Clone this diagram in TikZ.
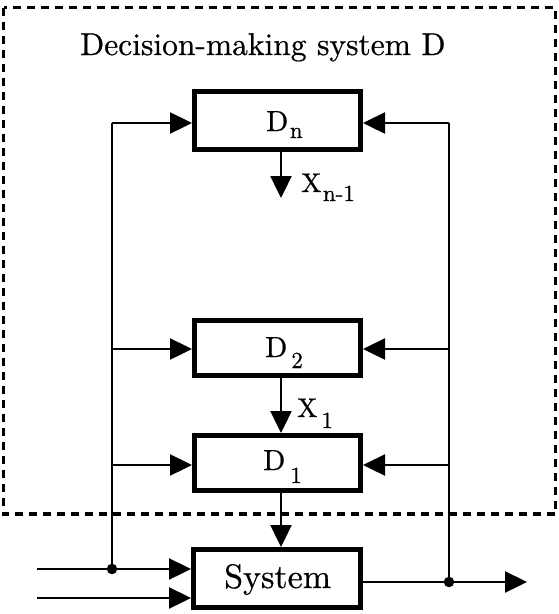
\documentclass[tikz,border=0pt]{standalone}
\usepackage{fontspec}
\setmainfont{lmroman10-regular.otf}[FakeBold=0.6]
\usetikzlibrary{arrows.meta}
\newcommand\dlab[5]{{\fontsize{#1}{#1}\selectfont #2\kern#5\raisebox{-#4}{\fontsize{23}{26}\selectfont #3}}}
\begin{document}
\begin{tikzpicture}[x=1pt,y=-1pt,
  blk/.style={draw, line width=4.6pt, inner sep=0pt, minimum width=166.4pt},
  conn/.style={line width=2.4pt},
  arr/.style={conn, -{Triangle[length=22pt,width=21pt]}},
  lbl/.style={inner sep=0pt, anchor=base west},
  jdot/.style={circle, fill, inner sep=0pt, minimum size=10.5pt},
  frame/.style={draw, line width=3.2pt, dash pattern=on 8pt off 6pt}]
\useasboundingbox (0,0) rectangle (559,614);
% dashed frame
\draw[frame] (3.5,7.5) rectangle (555.5,514);
% boxes
\node[blk, minimum height=58.4pt] (Dn) at (277.5,120.5) {};
\node[blk, minimum height=55.4pt] (D2) at (277.5,348) {};
\node[blk, minimum height=55.4pt] (D1) at (277.5,463) {};
\node[blk, minimum width=167.4pt, minimum height=58.4pt] (S) at (277,578.5) {};
% labels
\node[lbl] (title) at (80,55) {\fontsize{31.5}{36}\selectfont Decision-making system D};
\node[lbl] (tDn) at (266,131) {\dlab{29}{D}{n}{7pt}{1.5pt}};
\node[lbl] (tD2) at (265,357) {\dlab{29}{D}{2}{11pt}{4pt}};
\node[lbl] (tD1) at (263,470) {\dlab{29}{D}{1}{13pt}{5pt}};
\node[lbl] (tXn) at (301,192) {\dlab{27}{X}{n-1}{9pt}{1.5pt}};
\node[lbl] (tX1) at (297,417) {\dlab{27}{X}{1}{11pt}{4pt}};
\node[lbl] (tS) at (224,588) {\fontsize{34}{40}\selectfont System};
% coordinates
\coordinate (lt) at (112,123);
\coordinate (l2) at (112,349);
\coordinate (l1) at (112,465);
\coordinate (lj) at (112,569);
\coordinate (rt) at (449,123);
\coordinate (r2) at (449,349);
\coordinate (r1) at (449,465);
\coordinate (rj) at (449,582);
\coordinate (in1) at (37,569);
\coordinate (in2) at (37,598);
\coordinate (out) at (527,582);
\coordinate (xn) at (281,198);
\coordinate (c) at (281,0);
% feedback lines
\draw[conn] (lt) -- (lj);
\draw[conn] (rt) -- (rj);
\draw[arr] (lt) -- (lt -| Dn.west);
\draw[arr] (l2) -- (l2 -| D2.west);
\draw[arr] (l1) -- (l1 -| D1.west);
\draw[arr] (rt) -- (rt -| Dn.east);
\draw[arr] (r2) -- (r2 -| D2.east);
\draw[arr] (r1) -- (r1 -| D1.east);
% vertical signals
\draw[arr] (Dn.south -| xn) -- (xn);
\draw[arr] (D2.south -| c) -- (D1.north -| c);
\draw[arr] (D1.south -| c) -- (S.north -| c);
% system inputs / output
\draw[arr] (in1) -- (in1 -| S.west);
\draw[arr] (in2) -- (in2 -| S.west);
\draw[arr] (rj -| S.east) -- (out);
\node[jdot] (dl) at (lj) {};
\node[jdot] (dr) at (rj) {};
\end{tikzpicture}
\end{document}
